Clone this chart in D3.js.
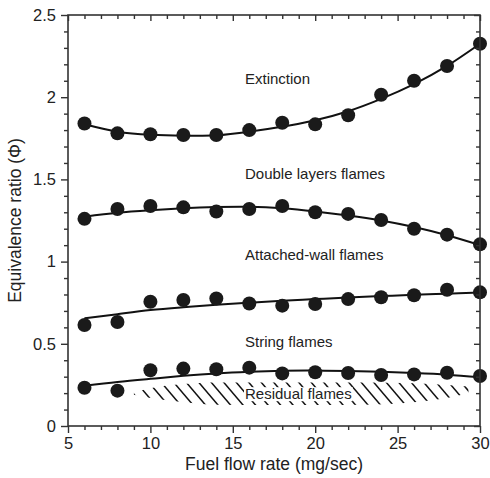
<!DOCTYPE html>
<html>
<head>
<meta charset="utf-8">
<script src="https://cdn.jsdelivr.net/npm/d3@7/dist/d3.min.js"></script>
<style>
	body { margin: 0; background: #fff; }
	svg text { font-family: "Liberation Sans", Arial, sans-serif; fill: #222; }
	.axis path, .axis line { stroke: #333; stroke-width: 1.4; }
	.axis text { font-size: 16.5px; }
</style>
</head>
<body>
<div id="chart"></div>
<script>
// fuel flow rate (mg/sec)
var flowRates = [6, 8, 10, 12, 14, 16, 18, 20, 22, 24, 26, 28, 30];

// measured equivalence ratios
var extinction   = [1.84, 1.78, 1.775, 1.77, 1.77, 1.80, 1.845, 1.835, 1.89, 2.015, 2.10, 2.19, 2.325];
var doubleLayers = [1.26, 1.32, 1.338, 1.33, 1.305, 1.32, 1.338, 1.30, 1.29, 1.253, 1.20, 1.164, 1.105];
var attachedWall = [0.614, 0.633, 0.756, 0.766, 0.776, 0.745, 0.732, 0.742, 0.772, 0.783, 0.795, 0.829, 0.813];
var stringFlames = [0.233, 0.215, 0.339, 0.349, 0.345, 0.355, 0.32, 0.327, 0.322, 0.31, 0.314, 0.324, 0.304];

// fitted curves, read at the same flow rates
var extinctionFit   = [1.835, 1.79, 1.772, 1.766, 1.768, 1.79, 1.82, 1.86, 1.915, 1.99, 2.08, 2.19, 2.325];
var doubleLayersFit = [1.273, 1.297, 1.312, 1.324, 1.332, 1.334, 1.325, 1.305, 1.28, 1.25, 1.21, 1.16, 1.10];
var attachedWallFit = [0.655, 0.68, 0.705, 0.722, 0.737, 0.75, 0.762, 0.772, 0.782, 0.79, 0.798, 0.805, 0.812];
var stringFlamesFit = [0.245, 0.268, 0.287, 0.305, 0.32, 0.33, 0.336, 0.337, 0.335, 0.33, 0.322, 0.312, 0.296];

// residual flames region (hatched)
var residualX      = [9, 10, 12, 14, 17, 20, 23, 26, 28, 29.3];
var residualTop    = [0.205, 0.23, 0.255, 0.265, 0.265, 0.265, 0.265, 0.26, 0.25, 0.24];
var residualBottom = [0.19, 0.17, 0.145, 0.13, 0.128, 0.128, 0.13, 0.145, 0.17, 0.2];

// axis ticks
var xMajorTicks = [5, 10, 15, 20, 25, 30];
var yMajorTicks = [0, 0.5, 1, 1.5, 2, 2.5];
var yTickLabels = ["0", "0.5", "1", "1.5", "2", "2.5"];

// region labels
var regionLabels = ["Extinction", "Double layers flames", "Attached-wall flames", "String flames", "Residual flames"];
var regionLabelY = [2.115, 1.533, 1.04, 0.511, 0.195];

var margin = { top: 15, right: 10, bottom: 52, left: 68 };
var outerWidth = 490, outerHeight = 478;
var width = outerWidth - margin.left - margin.right;
var height = outerHeight - margin.top - margin.bottom;

var x = d3.scaleLinear().domain([5, 30]).range([0, width]);
var y = d3.scaleLinear().domain([0, 2.5]).range([height, 0]);

var svg = d3.select("#chart").append("svg")
	.attr("width", outerWidth)
	.attr("height", outerHeight);

var g = svg.append("g")
	.attr("transform", "translate(" + margin.left + "," + margin.top + ")");

// minor tick values, skipping the majors
var xMinorTicks = d3.range(5, 31, 1).filter(function (d) { return d % 5 !== 0; });
var yMinorTicks = d3.range(0, 26, 1).filter(function (d) { return d % 5 !== 0; }).map(function (d) { return d / 10; });

// --- hatched residual region ---
var region = residualX.map(function (d, i) {
	return { x: d, top: residualTop[i], bottom: residualBottom[i] };
});
var regionArea = d3.area()
	.x(function (d) { return x(d.x); })
	.y0(function (d) { return y(d.bottom); })
	.y1(function (d) { return y(d.top); })
	.curve(d3.curveMonotoneX);

svg.append("defs").append("clipPath")
	.attr("id", "residual-clip")
	.append("path")
	.attr("d", regionArea(region));

var hatch = g.append("g").attr("clip-path", "url(#residual-clip)");
var hx0 = x(residualX[0]) - 40, hx1 = x(residualX[residualX.length - 1]) + 10;
var hy0 = y(0.3), hy1 = y(0.1);
for (var hx = hx0; hx < hx1; hx += 12.5) {
	hatch.append("line")
		.attr("x1", hx).attr("y1", hy0)
		.attr("x2", hx + (hy1 - hy0) * 0.85).attr("y2", hy1)
		.attr("stroke", "#111")
		.attr("stroke-width", 1.5);
}

// --- fitted curves ---
var line = d3.line()
	.x(function (d) { return x(d[0]); })
	.y(function (d) { return y(d[1]); })
	.curve(d3.curveNatural);

[extinctionFit, doubleLayersFit, attachedWallFit, stringFlamesFit].forEach(function (fit) {
	g.append("path")
		.datum(d3.zip(flowRates, fit))
		.attr("fill", "none")
		.attr("stroke", "#111")
		.attr("stroke-width", 2)
		.attr("d", line);
});

// --- measured points ---
[extinction, doubleLayers, attachedWall, stringFlames].forEach(function (series) {
	g.append("g").selectAll("circle")
		.data(d3.zip(flowRates, series))
		.enter().append("circle")
		.attr("cx", function (d) { return x(d[0]); })
		.attr("cy", function (d) { return y(d[1]); })
		.attr("r", 7)
		.attr("fill", "#1a1a1a");
});

// --- region labels ---
regionLabels.forEach(function (label, i) {
	var t = g.append("text")
		.attr("x", 177)
		.attr("y", y(regionLabelY[i]))
		.attr("dy", "0.35em")
		.attr("font-size", "15px")
		.text(label);
	// residual label sits on a white patch over the hatching
	if (i === regionLabels.length - 1) {
		var bb = t.node().getBBox();
		g.insert("rect", function () { return t.node(); })
			.attr("x", bb.x - 1)
			.attr("y", bb.y + 2)
			.attr("width", bb.width + 2)
			.attr("height", bb.height - 3)
			.attr("fill", "#fff");
	}
});

// --- axes ---
function styleAxis(sel) {
	sel.classed("axis", true);
	sel.select(".domain").remove();
}

// bottom: outward ticks with labels
g.append("g")
	.attr("transform", "translate(0," + height + ")")
	.call(d3.axisBottom(x).tickValues(xMajorTicks).tickSize(7).tickPadding(4).tickFormat(d3.format("d")))
	.call(styleAxis);
g.append("g")
	.attr("transform", "translate(0," + height + ")")
	.call(d3.axisBottom(x).tickValues(xMinorTicks).tickSize(4).tickFormat(""))
	.call(styleAxis);

// left: outward ticks with labels
g.append("g")
	.call(d3.axisLeft(y).tickValues(yMajorTicks).tickSize(7).tickPadding(5)
		.tickFormat(function (d, i) { return yTickLabels[i]; }))
	.call(styleAxis);
g.append("g")
	.call(d3.axisLeft(y).tickValues(yMinorTicks).tickSize(4).tickFormat(""))
	.call(styleAxis);

// top: inward ticks
g.append("g")
	.call(d3.axisBottom(x).tickValues(xMajorTicks).tickSize(6).tickFormat(""))
	.call(styleAxis);
g.append("g")
	.call(d3.axisBottom(x).tickValues(xMinorTicks).tickSize(4).tickFormat(""))
	.call(styleAxis);

// right: inward ticks
g.append("g")
	.attr("transform", "translate(" + width + ",0)")
	.call(d3.axisLeft(y).tickValues(yMajorTicks).tickSize(6).tickFormat(""))
	.call(styleAxis);
g.append("g")
	.attr("transform", "translate(" + width + ",0)")
	.call(d3.axisLeft(y).tickValues(yMinorTicks).tickSize(4).tickFormat(""))
	.call(styleAxis);

// frame
g.append("rect")
	.attr("width", width)
	.attr("height", height)
	.attr("fill", "none")
	.attr("stroke", "#333")
	.attr("stroke-width", 1.6);

// axis titles
svg.append("text")
	.attr("x", margin.left + width / 2)
	.attr("y", outerHeight - 8)
	.attr("text-anchor", "middle")
	.attr("font-size", "17.5px")
	.text("Fuel flow rate (mg/sec)");

svg.append("text")
	.attr("transform", "translate(21," + (margin.top + height / 2) + ") rotate(-90)")
	.attr("text-anchor", "middle")
	.attr("font-size", "17.5px")
	.text("Equivalence ratio (\u03A6)");
</script>
</body>
</html>
